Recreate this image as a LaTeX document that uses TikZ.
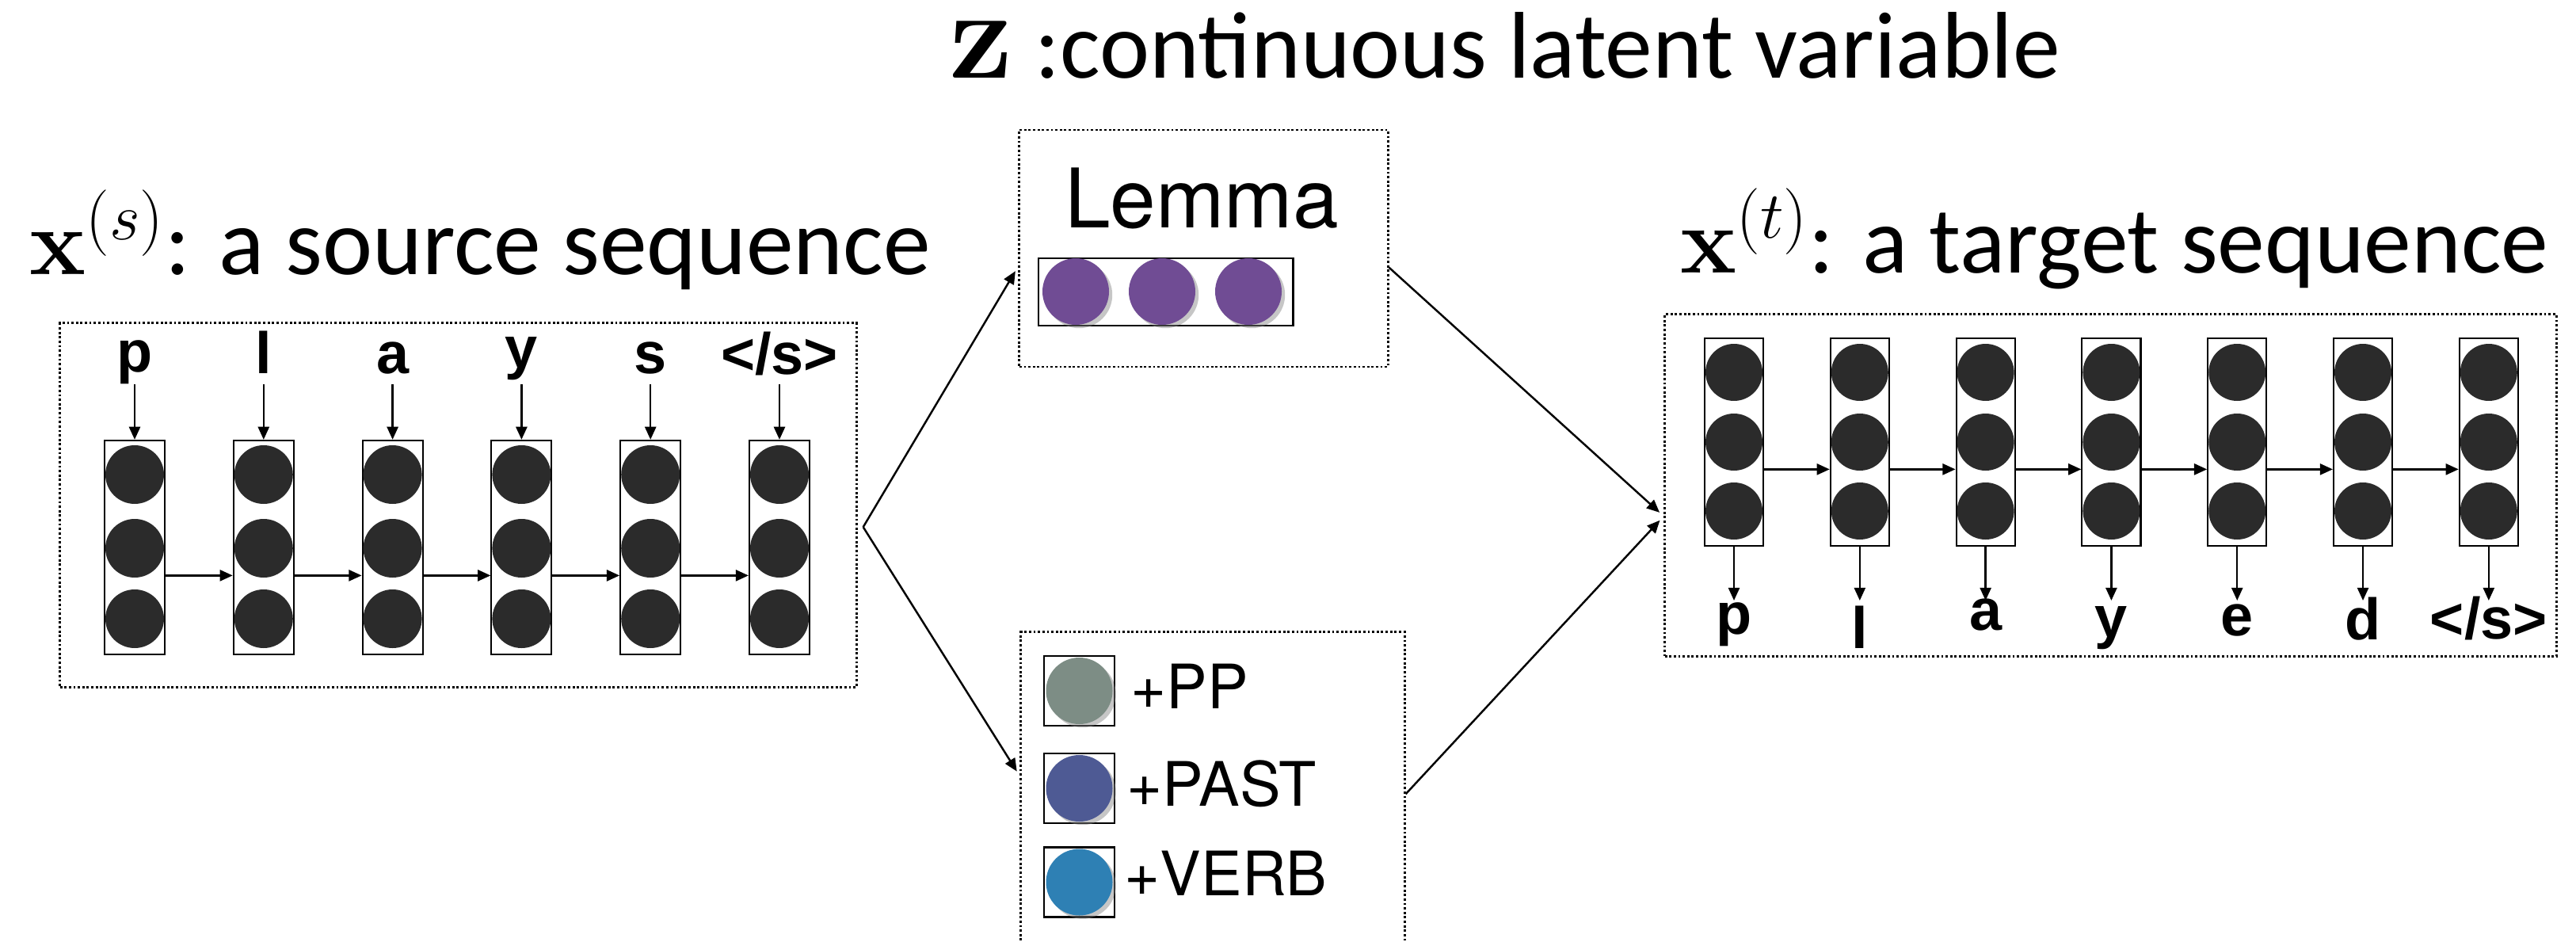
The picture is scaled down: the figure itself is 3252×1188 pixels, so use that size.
\RequirePackage{fix-cm}
\documentclass[tikz,border=0pt]{standalone}
\usepackage{amsmath}
\usepackage{graphicx}
\usepackage[no-math]{fontspec}
\setmainfont{Carlito}
\newfontfamily\helvfont{TeX Gyre Heros}
\newfontfamily\tokfont{Liberation Sans}
\usetikzlibrary{calc,positioning,arrows.meta,shadows}

\definecolor{unitgray}{HTML}{2B2B2B}
\definecolor{lemmapurple}{HTML}{704C94}
\definecolor{ppgray}{HTML}{7D8D85}
\definecolor{pastblue}{HTML}{4E5A94}
\definecolor{verbblue}{HTML}{2E80B4}

\newcommand{\eostok}{</s>}
\newcommand{\titlesize}{\fontsize{34}{40}\selectfont}

\begin{document}
\begin{tikzpicture}[x=0.01cm,y=-0.01cm,>={Triangle[length=4.6pt,width=4pt]},
    dotbox/.style={draw,line width=0.8pt,dash pattern=on 0.8pt off 0.8pt},
    srccol/.style={draw,line width=0.6pt,minimum width=0.76cm,minimum height=2.7cm,inner sep=0},
    tgtcol/.style={draw,line width=0.6pt,minimum width=0.74cm,minimum height=2.62cm,inner sep=0},
    tok/.style={font=\tokfont\fontsize{21}{25}\selectfont\bfseries,inner sep=0,anchor=base},
    title/.style={font=\titlesize,inner sep=0,anchor=base west},
    conn/.style={->,line width=0.7pt},
    tag/.style={font=\helvfont\fontsize{22}{26}\selectfont,inner sep=0,anchor=base west},
    tagbox/.style={draw,line width=0.8pt,minimum width=0.89cm,minimum height=0.88cm,inner sep=0},
    softshadow/.style={drop shadow={shadow xshift=1.2pt,shadow yshift=-1.2pt,opacity=0.45}}]
    \useasboundingbox (0,0) rectangle (3252,1188);
    %
    \node[title] (srctitle) at (37,346) {$\mathbf{x}^{(s)}$: a source sequence};
    \node[title] (ztitle) at (1198,99) {\scalebox{1.35}{$\mathbf{z}$} :continuous latent variable};
    \node[title] (tgttitle) at (2121,344) {$\mathbf{x}^{(t)}$: a target sequence};
    %
    % source sequence
    \node[dotbox,minimum width=10.05cm,minimum height=4.59cm] (src) at (578.5,637.5) {};
    \coordinate (srctop) at (0,485);
    \foreach \i/\tk/\yb in {1/p/469,2/l/471,3/a/471,4/y/464,5/s/471,6/\eostok/472}{
        \node[srccol] (s\i) at ({170+162.8*(\i-1)},691) {};
        \foreach \dy in {-92,1,90}
            \fill[unitgray] (s\i) ++(0,\dy) circle (37);
        \node[tok] (sl\i) at (s\i |- 0,\yb) {\tk};
        \draw[conn] (s\i |- srctop) -- (s\i);
    }
    \foreach \i/\j in {1/2,2/3,3/4,4/5,5/6}
        \draw[conn] ($(s\i.north east)!0.63!(s\i.south east)$) -- ($(s\j.north west)!0.63!(s\j.south west)$);
    %
    % latent variable: lemma
    \node[dotbox,minimum width=4.65cm,minimum height=2.99cm] (lemma) at (1519.5,313.5) {};
    \node[font=\helvfont\fontsize{29.5}{34}\selectfont,inner sep=0,anchor=base] (lemmatext) at (1517,287) {Lemma};
    \node[draw,line width=0.8pt,minimum width=3.21cm,minimum height=0.85cm,inner sep=0] (lemmavec) at (1471.5,368.5) {};
    \foreach \x in {1358,1467,1576}
        \fill[lemmapurple,softshadow] (\x,368) circle (42);
    %
    % latent variable: tags
    \node[dotbox,minimum width=4.84cm,minimum height=4.17cm] (tags) at (1531,1006.5) {};
    \foreach \n/\yc/\col/\lab/\xt/\yb in {pp/872/ppgray/+PP/1427/894,past/995/pastblue/+PAST/1422/1017,verb/1113.5/verbblue/+VERB/1419/1130}{
        \node[tagbox] (\n) at (1362.5,\yc) {};
        \fill[\col,softshadow] (\n) circle (42);
        \node[tag] (\n text) at (\xt,\yb) {\lab};
    }
    %
    % target sequence
    \node[dotbox,minimum width=11.25cm,minimum height=4.31cm] (tgt) at (2664.5,612.5) {};
    \coordinate (tgttip) at (0,758);
    \foreach \i/\tk/\yb in {1/p/800,2/l/818,3/a/795,4/y/804,5/e/802,6/d/807,7/\eostok/806}{
        \node[tgtcol] (t\i) at ({2189+158.8*(\i-1)},558) {};
        \foreach \dy in {-88,0,87}
            \fill[unitgray] (t\i) ++(0,\dy) circle (36);
        \node[tok] (tl\i) at (t\i |- 0,\yb) {\tk};
        \draw[conn] (t\i) -- (t\i |- tgttip);
    }
    \foreach \i/\j in {1/2,2/3,3/4,4/5,5/6,6/7}
        \draw[conn] ($(t\i.north east)!0.63!(t\i.south east)$) -- ($(t\j.north west)!0.63!(t\j.south west)$);
    %
    \coordinate (fork) at ($(src.north east)!0.56!(src.south east)+(7,0)$);
    \coordinate (merge) at ($(tgt.north west)!0.59!(tgt.south west)$);
    \draw[conn,shorten >=2pt] (fork) -- ($(lemma.north west)!0.575!(lemma.south west)$);
    \draw[conn,shorten >=2pt] (fork) -- ($(tags.north west)!0.436!(tags.south west)$);
    \draw[conn,shorten >=2pt] ($(lemma.north east)!0.58!(lemma.south east)$) -- (merge);
    \draw[conn,shorten >=2pt] ($(tags.north east)!0.49!(tags.south east)$) -- (merge);
\end{tikzpicture}
\end{document}
